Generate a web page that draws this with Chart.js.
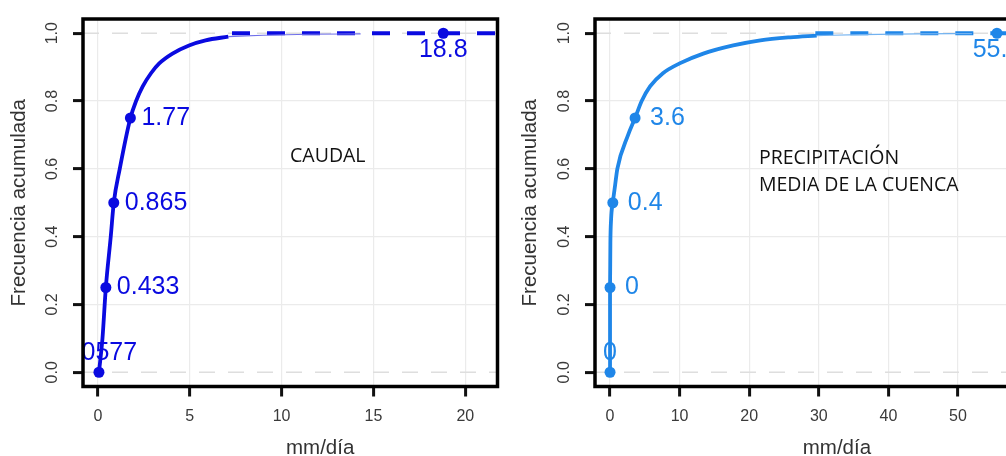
<!DOCTYPE html>
<html>
<head>
<meta charset="utf-8">
<title>Frecuencia acumulada</title>
<script src="https://cdn.jsdelivr.net/npm/chart.js@4.4.1/dist/chart.umd.min.js"></script>
<style>
  html, body { margin: 0; padding: 0; background: #fff; overflow: hidden; }
  #wrap { position: relative; width: 1006px; height: 456px; overflow: hidden; }
  #wrap canvas { position: absolute; top: 0; }
  #caudal { left: 0; }
  #precip { left: 503px; }
</style>
</head>
<body>
<div id="wrap">
  <canvas id="caudal" width="503" height="456"></canvas>
  <canvas id="precip" width="545" height="456"></canvas>
</div>
<script>
// probabilidades de los cuantiles marcados y ticks del eje y
const quantProb = [0, 0.25, 0.5, 0.75, 1];
const yTickValues = [0, 0.2, 0.4, 0.6, 0.8, 1];

// caudal (mm/día)
const caudalTicks = [0, 5, 10, 15, 20];
const caudalQuant = [0.0577, 0.433, 0.865, 1.77, 18.8];
const caudalQuantText = ['0.0577', '0.433', '0.865', '1.77', '18.8'];
const caudalCurveX = [0.0577, 0.25, 0.433, 0.7, 0.865, 1.19, 1.77, 2.08, 2.44, 2.89, 3.34, 4.06, 4.96, 5.86, 7.1];
const caudalCurveY = [0, 0.1, 0.25, 0.4, 0.5, 0.6, 0.75, 0.8, 0.843, 0.882, 0.911, 0.94, 0.964, 0.979, 0.99];
const caudalTailX = [7.1, 9, 11.5, 14.3];
const caudalTailY = [0.99, 0.994, 0.997, 0.998];
const caudalDashFrom = 7.3;

// precipitación media de la cuenca (mm/día)
const precipTicks = [0, 10, 20, 30, 40, 50];
const precipQuant = [0, 0, 0.4, 3.6, 55.6];
const precipQuantText = ['0', '0', '0.4', '3.6', '55.6'];
const precipCurveX = [0, 0, 0.05, 0.15, 0.4, 0.72, 1.05, 2.6, 3.6, 4.55, 5.75, 7.6, 10, 13.4, 17.7, 21.6, 25.9, 29.7];
const precipCurveY = [0, 0.25, 0.38, 0.45, 0.5, 0.55, 0.6, 0.7, 0.75, 0.8, 0.843, 0.882, 0.911, 0.94, 0.964, 0.979, 0.988, 0.993];
const precipTailX = [29.7, 36, 44, 52];
const precipTailY = [0.993, 0.996, 0.998, 0.999];
const precipDashFrom = 29.5;

const SANS = '"Liberation Sans", Arial, sans-serif';
const toPoints = (xs, ys) => xs.map((v, i) => ({x: v, y: ys[i]}));

// rejilla punteada en 0 y 1, etiquetas de cuantiles, nota y marco
const cdfDecor = {
  id: 'cdfDecor',
  beforeDatasetsDraw(chart) {
    const {ctx, chartArea: a, scales: {y}} = chart;
    ctx.save();
    ctx.strokeStyle = '#dedede';
    ctx.lineWidth = 1.5;
    ctx.setLineDash([16, 13]);
    [0, 1].forEach(v => {
      const py = y.getPixelForValue(v);
      ctx.beginPath();
      ctx.moveTo(a.left, py);
      ctx.lineTo(a.right, py);
      ctx.stroke();
    });
    ctx.restore();
  },
  afterDatasetsDraw(chart, args, opts) {
    const {ctx, chartArea: a, scales: {x, y}} = chart;
    const pts = chart.getDatasetMeta(0).data;
    ctx.save();
    ctx.beginPath();
    ctx.rect(a.left, a.top, a.right - a.left, a.bottom - a.top);
    ctx.clip();
    ctx.font = '25px ' + SANS;
    ctx.fillStyle = opts.color;
    ctx.textBaseline = 'middle';
    pts.forEach((p, i) => {
      const txt = opts.labels[i];
      if (i === 0) {
        ctx.textAlign = 'center';
        ctx.fillText(txt, p.x, p.y - 19);
      } else if (i === pts.length - 1) {
        ctx.textAlign = 'center';
        ctx.fillText(txt, p.x, p.y + 17);
      } else {
        ctx.textAlign = 'left';
        ctx.fillText(txt, p.x + opts.gap, p.y);
      }
    });
    ctx.fillStyle = '#111';
    ctx.font = '19.5px "Open Sans", sans-serif';
    ctx.textAlign = 'left';
    ctx.textBaseline = 'alphabetic';
    opts.note.lines.forEach((line, k) => {
      ctx.fillText(line, x.getPixelForValue(opts.note.x), y.getPixelForValue(opts.note.y[k]));
    });
    ctx.restore();

    ctx.save();
    ctx.fillStyle = '#333';
    ctx.font = '20.5px ' + SANS;
    ctx.textAlign = 'center';
    ctx.textBaseline = 'alphabetic';
    ctx.fillText('mm/día', x.getPixelForValue(opts.xTitleAt), chart.height - 2);
    ctx.strokeStyle = '#000';
    ctx.lineWidth = 3.5;
    ctx.strokeRect(a.left, a.top, a.right - a.left, a.bottom - a.top);
    ctx.restore();
  }
};

function cdfPanel(canvasId, o) {
  return new Chart(document.getElementById(canvasId), {
    type: 'line',
    data: {
      datasets: [
        {
          data: toPoints(o.quant, quantProb),
          showLine: false,
          pointRadius: 5.5,
          pointBackgroundColor: o.color,
          pointBorderColor: o.color,
          pointBorderWidth: 0
        },
        {
          data: toPoints(o.curveX, o.curveY),
          borderColor: o.color,
          borderWidth: 3.8,
          pointRadius: 0,
          cubicInterpolationMode: 'monotone'
        },
        {
          data: toPoints(o.tailX, o.tailY),
          borderColor: o.tailColor,
          borderWidth: 1.2,
          pointRadius: 0,
          cubicInterpolationMode: 'monotone'
        },
        {
          data: [{x: o.dashFrom, y: 1}, {x: o.xMax, y: 1}],
          borderColor: o.color,
          borderWidth: 3.8,
          borderDash: [18, 17],
          pointRadius: 0
        }
      ]
    },
    options: {
      responsive: false,
      animation: false,
      events: [],
      layout: {padding: {top: 15, right: o.padRight, bottom: 0, left: 0}},
      plugins: {
        legend: {display: false},
        tooltip: {enabled: false},
        cdfDecor: {
          color: o.color,
          labels: o.labels,
          gap: o.gap,
          note: o.note,
          xTitleAt: o.xTitleAt
        }
      },
      scales: {
        x: {
          type: 'linear',
          min: o.xMin,
          max: o.xMax,
          afterBuildTicks: s => { s.ticks = o.xTicks.map(v => ({value: v})); },
          afterFit: s => { s.height = 69.5; },
          grid: {color: '#ebebeb', lineWidth: 1.2, tickColor: '#111', tickWidth: 3, tickLength: 10},
          border: {display: false},
          ticks: {font: {family: SANS, size: 16}, color: '#3a3a3a', padding: 10, maxRotation: 0, autoSkip: false}
        },
        y: {
          type: 'linear',
          min: -0.042,
          max: 1.042,
          afterBuildTicks: s => { s.ticks = yTickValues.map(v => ({value: v})); },
          afterFit: s => { s.width = o.yWidth; },
          grid: {
            color: c => (c.tick && (c.tick.value === 0 || c.tick.value === 1)) ? 'rgba(0,0,0,0)' : '#ebebeb',
            lineWidth: 1.2,
            tickColor: '#111',
            tickWidth: 3,
            tickLength: 10
          },
          border: {display: false},
          ticks: {
            minRotation: 90,
            maxRotation: 90,
            crossAlign: 'center',
            padding: 9.4,
            autoSkip: false,
            font: {family: SANS, size: 16},
            color: '#3a3a3a',
            callback: v => v.toFixed(1)
          },
          title: {
            display: true,
            text: 'Frecuencia acumulada',
            color: '#333',
            font: {family: SANS, size: 20.5, lineHeight: 1},
            padding: {top: o.yTitlePad, bottom: 0}
          }
        }
      }
    },
    plugins: [cdfDecor]
  });
}

cdfPanel('caudal', {
  color: '#0a0ae0',
  tailColor: '#7070ea',
  quant: caudalQuant,
  labels: caudalQuantText,
  curveX: caudalCurveX, curveY: caudalCurveY,
  tailX: caudalTailX, tailY: caudalTailY,
  dashFrom: caudalDashFrom,
  xMin: -0.81, xMax: 21.75,
  xTicks: caudalTicks,
  yWidth: 83, padRight: 1.5, yTitlePad: 8.75,
  gap: 11,
  xTitleAt: 12.1,
  note: {lines: ['CAUDAL'], x: 10.46, y: [0.62]}
});

cdfPanel('precip', {
  color: '#1f86e8',
  tailColor: '#72b2f0',
  quant: precipQuant,
  labels: precipQuantText,
  curveX: precipCurveX, curveY: precipCurveY,
  tailX: precipTailX, tailY: precipTailY,
  dashFrom: precipDashFrom,
  xMin: -2.16, xMax: 62,
  xTicks: precipTicks,
  yWidth: 92, padRight: 6.5, yTitlePad: 16.75,
  gap: 15,
  xTitleAt: 32.6,
  note: {lines: ['PRECIPITACIÓN', 'MEDIA DE LA CUENCA'], x: 21.4, y: [0.613, 0.536]}
});
</script>
</body>
</html>
